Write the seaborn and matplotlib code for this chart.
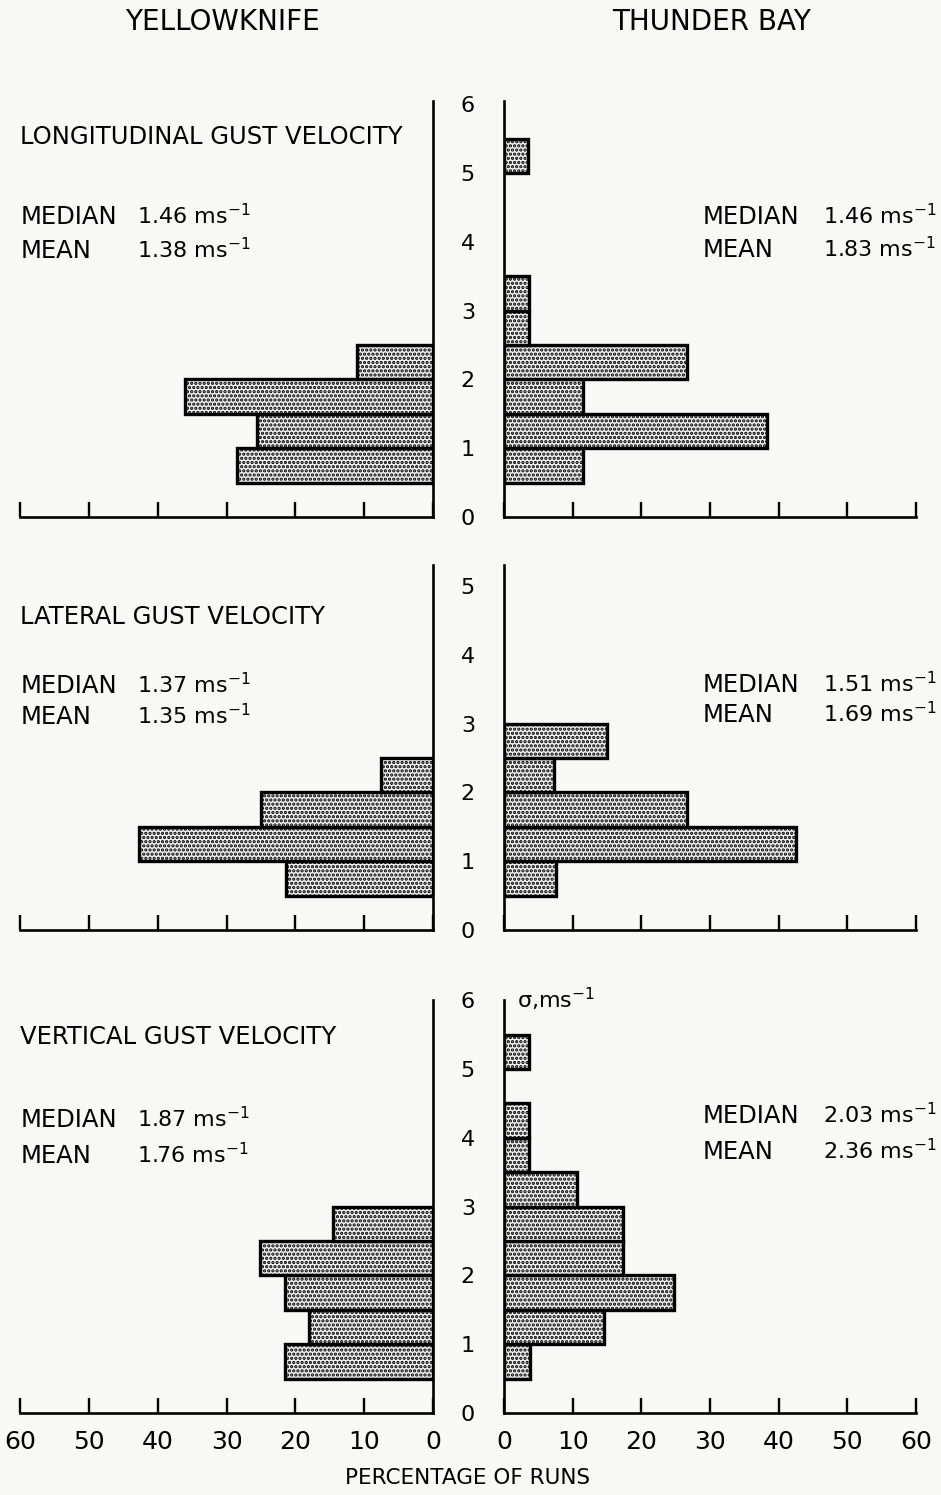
import numpy as np
import pandas as pd
import matplotlib
matplotlib.use("Agg")
import matplotlib.pyplot as plt
import seaborn as sns

# Gust-speed class edges (sigma, m/s)
bin_edges = [0.5, 1.0, 1.5, 2.0, 2.5, 3.0, 3.5, 4.0, 4.5, 5.0, 5.5, 6.0]

# Percentage of runs in each sigma class (class centres)
yk_long_sigma = [0.75, 1.25, 1.75, 2.25]
yk_long_pct = [28.5, 25.5, 36.0, 11.0]
tb_long_sigma = [0.75, 1.25, 1.75, 2.25, 2.75, 3.25, 5.25]
tb_long_pct = [11.5, 38.3, 11.5, 26.6, 3.7, 3.7, 3.5]

yk_lat_sigma = [0.75, 1.25, 1.75, 2.25]
yk_lat_pct = [21.4, 42.7, 25.0, 7.6]
tb_lat_sigma = [0.75, 1.25, 1.75, 2.25, 2.75]
tb_lat_pct = [7.5, 42.5, 26.7, 7.3, 15.0]

yk_vert_sigma = [0.75, 1.25, 1.75, 2.25, 2.75]
yk_vert_pct = [21.5, 18.0, 21.5, 25.2, 14.6]
tb_vert_sigma = [0.75, 1.25, 1.75, 2.25, 2.75, 3.25, 3.75, 4.25, 5.25]
tb_vert_pct = [3.8, 14.5, 24.7, 17.3, 17.3, 10.6, 3.6, 3.6, 3.6]

components = ["LONGITUDINAL GUST VELOCITY", "LATERAL GUST VELOCITY", "VERTICAL GUST VELOCITY"]
yk_median = ["1.46", "1.37", "1.87"]
yk_mean = ["1.38", "1.35", "1.76"]
tb_median = ["1.46", "1.51", "2.03"]
tb_mean = ["1.83", "1.69", "2.36"]
sigma_top = [6.05, 5.3, 6.0]
pct_ticks = [0, 10, 20, 30, 40, 50, 60]

sns.set_style("white")
plt.rcParams["font.family"] = ["DejaVu Sans"]
plt.rcParams["mathtext.fontset"] = "dejavusans"
plt.rcParams["hatch.linewidth"] = 1.6
plt.rcParams["hatch.color"] = "black"
for key in ("text.color", "axes.labelcolor", "xtick.color", "ytick.color"):
    plt.rcParams[key] = "black"

BG = "#f8f8f6"
W, H = 941, 1495
fig = plt.figure(figsize=(W / 100, H / 100), dpi=100, facecolor=BG)

PX_PER_UNIT = 68.8
row_base = [517, 930, 1413]
left_x = (20, 433)
right_x = (504, 916)


def add_px_axes(x0, x1, ybot, ytop):
    ax = fig.add_axes([x0 / W, 1 - ybot / H, (x1 - x0) / W, (ybot - ytop) / H])
    ax.set_facecolor("none")
    return ax


bar_style = dict(facecolor="#f0f0f0", edgecolor="black", linewidth=2.4,
                 hatch="....", alpha=1)

series = [
    (yk_long_sigma, yk_long_pct, tb_long_sigma, tb_long_pct),
    (yk_lat_sigma, yk_lat_pct, tb_lat_sigma, tb_lat_pct),
    (yk_vert_sigma, yk_vert_pct, tb_vert_sigma, tb_vert_pct),
]

for r, (ys, yp, ts, tp) in enumerate(series):
    ybot = row_base[r]
    ytop = ybot - sigma_top[r] * PX_PER_UNIT
    axl = add_px_axes(left_x[0], left_x[1], ybot, ytop)
    axr = add_px_axes(right_x[0], right_x[1], ybot, ytop)

    dl = pd.DataFrame({"sigma": ys, "pct": yp})
    dr = pd.DataFrame({"sigma": ts, "pct": tp})
    sns.histplot(data=dl, y="sigma", weights="pct", bins=bin_edges, ax=axl, **bar_style)
    sns.histplot(data=dr, y="sigma", weights="pct", bins=bin_edges, ax=axr, **bar_style)

    for ax in (axl, axr):
        for p in list(ax.patches):
            if p.get_width() == 0:
                p.remove()
        ax.set_ylim(0, sigma_top[r])
        ax.set_xticks(pct_ticks)
        ax.set_xlabel("")
        ax.set_ylabel("")
        ax.spines["top"].set_visible(False)
        for s in ax.spines.values():
            s.set_linewidth(1.9)
            s.set_color("black")
        ax.tick_params(axis="x", bottom=True, top=False, direction="in",
                       length=11, width=1.7, color="black", labelsize=18,
                       pad=12, labelbottom=(r == 2))

    axl.set_xlim(60, 0)
    axl.spines["left"].set_visible(False)
    axl.tick_params(axis="y", left=False, right=False, labelleft=False)

    axr.set_xlim(0, 60)
    axr.spines["right"].set_visible(False)
    yt = list(range(int(np.floor(sigma_top[r])) + 1))
    axr.set_yticks(yt)
    axr.set_yticklabels([str(v) for v in yt])
    axr.tick_params(axis="y", left=True, length=0, pad=26, labelsize=16)
    for lab in axr.get_yticklabels():
        lab.set_horizontalalignment("center")

# Column headings
fig.text(222 / W, 1 - 22 / H, "YELLOWKNIFE", ha="center", va="center", fontsize=20)
fig.text(712 / W, 1 - 22 / H, "THUNDER BAY", ha="center", va="center", fontsize=20)

# Component names and summary statistics
name_y = [137, 617, 1037]
yk_stat_y = [(216, 250), (685, 716), (1119, 1155)]
tb_stat_y = [(216, 249), (684, 714), (1115, 1151)]
FS_CAPS = 17.5
FS_VAL = 16
UNIT = " ms$^{-1}$"
for r in range(3):
    fig.text(20 / W, 1 - name_y[r] / H, components[r], ha="left", va="center", fontsize=FS_CAPS)
    for label, val, yy in (("MEDIAN", yk_median[r], yk_stat_y[r][0]),
                           ("MEAN", yk_mean[r], yk_stat_y[r][1])):
        fig.text(21 / W, 1 - (yy + 8) / H, label, ha="left", va="baseline", fontsize=FS_CAPS)
        fig.text(137 / W, 1 - (yy + 8) / H, val + UNIT, ha="left", va="baseline", fontsize=FS_VAL)
    for label, val, yy in (("MEDIAN", tb_median[r], tb_stat_y[r][0]),
                           ("MEAN", tb_mean[r], tb_stat_y[r][1])):
        fig.text(703 / W, 1 - (yy + 8) / H, label, ha="left", va="baseline", fontsize=FS_CAPS)
        fig.text(823 / W, 1 - (yy + 8) / H, val + UNIT, ha="left", va="baseline", fontsize=FS_VAL)

fig.text(517 / W, 1 - 1008 / H, "σ,ms$^{-1}$", ha="left", va="baseline", fontsize=FS_VAL)
fig.text(468 / W, 1 - 1478 / H, "PERCENTAGE OF RUNS", ha="center", va="center", fontsize=15.5)

fig.savefig("out.png", dpi=100, facecolor=BG)
